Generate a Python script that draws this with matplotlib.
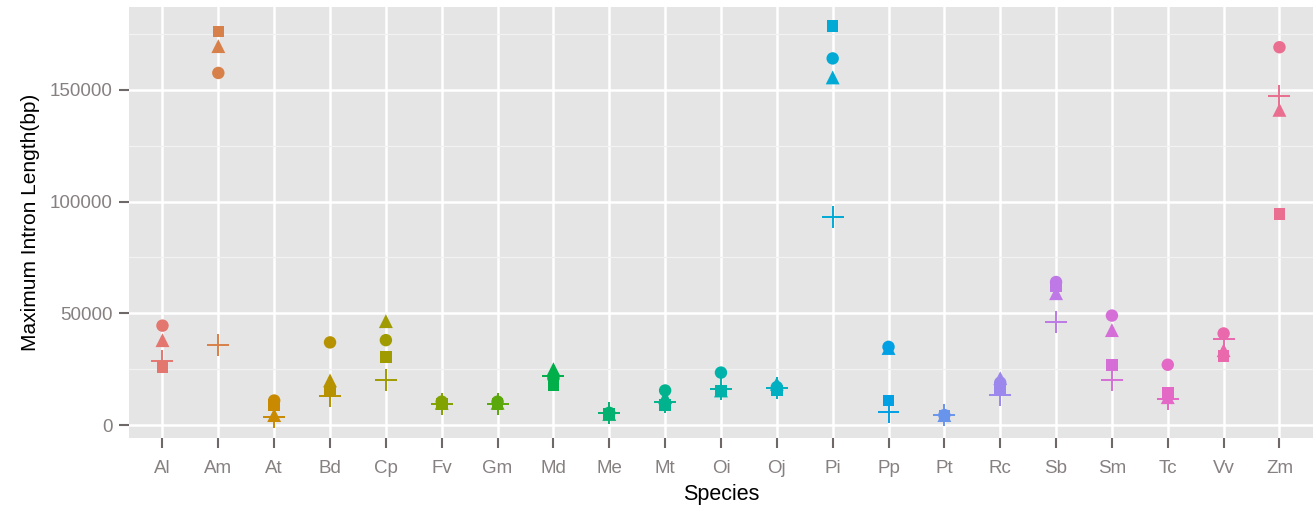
import numpy as np
import matplotlib
matplotlib.use("Agg")
import matplotlib.pyplot as plt

species = ["Al", "Am", "At", "Bd", "Cp", "Fv", "Gm", "Md", "Me", "Mt", "Oi",
           "Oj", "Pi", "Pp", "Pt", "Rc", "Sb", "Sm", "Tc", "Vv", "Zm"]

# one list per marker shape (bp)
circle_vals = [44500, 157500, 11000, 37000, 38000, 10500, 10500, 21000, 5500, 15500, 23500,
               17000, 164000, 35000, 4500, 19000, 64000, 49000, 27000, 41000, 169000]
triangle_vals = [38000, 169500, 4500, 20000, 46500, 10000, 10000, 25000, 5000, 12500, 15500,
                 18500, 155500, 34500, 4500, 21000, 59000, 42500, 12500, 33500, 141000]
square_vals = [26000, 176000, 9000, 15000, 30500, 9500, 9500, 18000, 5000, 9000, 15500,
               15500, 178500, 11000, 4000, 15500, 62000, 27000, 14500, 31000, 94500]
plus_vals = [28500, 36000, 3500, 13000, 20000, 9500, 9500, 22000, 5500, 10500, 16000,
             16500, 93000, 6000, 4500, 13500, 46000, 20000, 11500, 38500, 147000]


def hcl_to_rgb(h, c=100.0, l=65.0):
    # ggplot2 style hue colour (polarLUV -> sRGB)
    hr = np.deg2rad(h)
    u, v = c * np.cos(hr), c * np.sin(hr)
    xn, yn, zn = 95.047, 100.0, 108.883
    un = 4 * xn / (xn + 15 * yn + 3 * zn)
    vn = 9 * yn / (xn + 15 * yn + 3 * zn)
    y = yn * ((l + 16) / 116) ** 3 if l > 8 else yn * l / 903.3
    up = u / (13 * l) + un
    vp = v / (13 * l) + vn
    x = 9 * y * up / (4 * vp)
    z = -x / 3 - 5 * y + 3 * y / vp
    xyz = np.array([x, y, z]) / 100.0
    m = np.array([[3.2404542, -1.5371385, -0.4985314],
                  [-0.9692660, 1.8760108, 0.0415560],
                  [0.0556434, -0.2040259, 1.0572252]])
    rgb = m @ xyz
    rgb = np.where(rgb <= 0.0031308, 12.92 * rgb, 1.055 * np.power(np.clip(rgb, 0, None), 1 / 2.4) - 0.055)
    return tuple(np.clip(rgb, 0, 1))


n = len(species)
hues = np.linspace(15, 375, n + 1)[:n]
# the scan is a bit washed out, so a little less chroma than the default
colors = [hcl_to_rgb(h, c=82, l=62) for h in hues]

plt.rcParams['font.family'] = ['Liberation Sans', 'DejaVu Sans']
fig = plt.figure(figsize=(13.16, 5.13), dpi=100)
ax = fig.add_axes([0.098, 0.146, 0.8997, 0.8404])
ax.set_facecolor("#E5E5E5")

xs = np.arange(n)
ax.scatter(xs, circle_vals, c=colors, marker="o", s=80, linewidths=0, zorder=3)
ax.scatter(xs, triangle_vals, c=colors, marker="^", s=100, linewidths=0, zorder=3)
ax.scatter(xs, square_vals, c=colors, marker="s", s=70, linewidths=0, zorder=3)
ax.scatter(xs, plus_vals, c=colors, marker="+", s=250, linewidths=1.4, zorder=3)

ax.set_xlim(-0.6, n - 1 + 0.6)
ax.set_ylim(-5800, 187000)
ax.set_xticks(xs)
ax.set_xticklabels(species)
ax.set_yticks([0, 50000, 100000, 150000])
ax.set_yticks([25000, 75000, 125000, 175000], minor=True)

ax.grid(which="major", color="white", linewidth=1.8)
ax.grid(which="minor", color="#F2F2F2", linewidth=0.9)
ax.set_axisbelow(True)
for s in ax.spines.values():
    s.set_visible(False)

ax.tick_params(axis="both", which="major", colors="#6E6868", labelcolor="#878080",
               labelsize=13.5, length=7, width=1.5)
ax.tick_params(axis="y", which="minor", length=0)
ax.tick_params(axis="x", pad=9)
ax.tick_params(axis="y", pad=5)

ax.set_xlabel("Species", fontsize=15.5, labelpad=5)
ax.set_ylabel("Maximum Intron Length(bp)", fontsize=15, labelpad=7)

fig.savefig("out.png", dpi=100)
